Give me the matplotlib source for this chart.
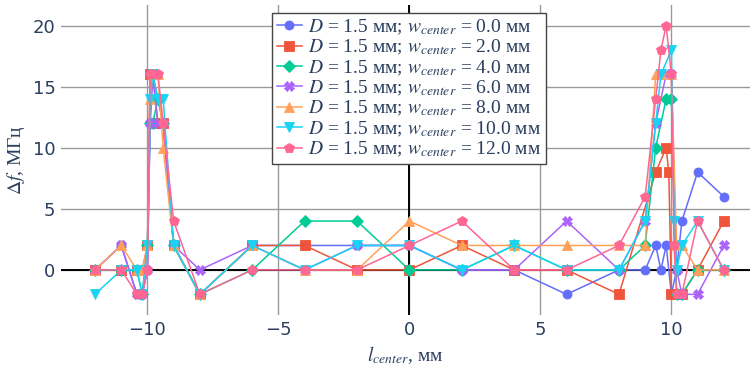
import matplotlib.pyplot as plt

plt.rcParams['mathtext.fontset'] = 'stix'

# data (x in mm, y in MHz)
x_w0 = [-12, -11, -10.4, -10.2, -10, -9.9, -9.8, -9.6, -9.4, -9, -8, -6, -4, -2, 0, 2, 4, 6, 8, 9, 9.4, 9.6, 9.8, 10, 10.2, 10.4, 11, 12]
y_w0 = [0, 2, -2, -2, 0, 12, 16, 14, 12, 2, -2, 2, 2, 2, 2, 0, 0, -2, 0, 0, 2, 0, 2, -2, 0, 4, 8, 6]

x_w2 = [-12, -11, -10.4, -10.2, -10, -9.9, -9.8, -9.6, -9.4, -9, -8, -6, -4, -2, 0, 2, 4, 6, 8, 9.4, 9.8, 9.9, 10, 10.2, 10.4, 11, 12]
y_w2 = [0, 0, 0, 0, 2, 16, 16, 12, 12, 2, -2, 2, 2, 0, 0, 2, 0, 0, -2, 8, 10, 8, -2, -2, -2, 0, 4]

x_w4 = [-12, -11, -10.4, -10.2, -10, -9.9, -9.8, -9.6, -9.4, -9, -8, -6, -4, -2, 0, 2, 4, 6, 8, 9, 9.4, 9.8, 10, 10.2, 10.4, 11, 12]
y_w4 = [0, 0, 0, -2, 2, 12, 12, 14, 12, 2, -2, 0, 4, 4, 0, 0, 2, 0, 0, 2, 10, 14, 14, -2, -2, 0, 0]

x_w6 = [-12, -11, -10.4, -10.2, -10, -9.9, -9.8, -9.6, -9.4, -9, -8, -6, -4, -2, 0, 2, 4, 6, 8, 9, 9.4, 9.8, 10, 10.2, 10.4, 11, 12]
y_w6 = [0, 2, -2, -2, 0, 12, 16, 12, 12, 2, 0, 2, 0, 2, 2, 0, 0, 4, 0, 4, 12, 16, 16, 0, -2, -2, 2]

x_w8 = [-12, -11, -10.4, -10.2, -10, -9.9, -9.8, -9.6, -9.4, -9, -8, -6, -4, -2, 0, 2, 4, 6, 8, 9, 9.4, 9.6, 10, 10.2, 10.4, 11, 12]
y_w8 = [0, 2, 0, 0, 2, 14, 16, 16, 10, 2, -2, 2, 0, 0, 4, 2, 2, 2, 2, 2, 16, 16, 16, 2, 2, 0, 0]

x_w10 = [-12, -11, -10.4, -10.2, -10, -9.9, -9.8, -9.6, -9.4, -9, -8, -6, -4, -2, 0, 2, 4, 6, 8, 9, 9.4, 9.6, 10, 10.1, 10.2, 10.4, 11, 12]
y_w10 = [-2, 0, 0, -2, 2, 14, 16, 14, 14, 2, -2, 2, 0, 2, 2, 0, 2, 0, 0, 4, 12, 16, 18, 4, 0, 2, 4, 0]

x_w12 = [-12, -11, -10.4, -10.2, -10, -9.9, -9.8, -9.6, -9.4, -9, -8, -6, -4, -2, 0, 2, 4, 6, 8, 9, 9.4, 9.6, 9.8, 10, 10.1, 10.2, 10.4, 11, 12]
y_w12 = [0, 0, -2, -2, 0, 16, 16, 16, 12, 4, -2, 0, 0, 0, 2, 4, 0, 0, 2, 6, 14, 18, 20, 16, 2, -2, -2, 4, 0]

widths = ['0.0', '2.0', '4.0', '6.0', '8.0', '10.0', '12.0']
xs = [x_w0, x_w2, x_w4, x_w6, x_w8, x_w10, x_w12]
ys = [y_w0, y_w2, y_w4, y_w6, y_w8, y_w10, y_w12]
colors = ['#636EFA', '#EF553B', '#00CC96', '#AB63FA', '#FFA15A', '#19D3F3', '#FF6692']
markers = ['o', 's', 'D', 'X', '^', 'v', 'p']
msizes = [6.5, 6.5, 6, 7, 6.5, 6.5, 7]

fig = plt.figure(figsize=(7.53, 3.72), dpi=100)
ax = fig.add_axes([0.081, 0.153, 0.915, 0.834])

for x, y, w, c, m, ms in zip(xs, ys, widths, colors, markers, msizes):
    ax.plot(x, y, color=c, marker=m, markersize=ms, linewidth=1.1,
            markeredgewidth=0.6, markeredgecolor=c,
            label=r'$D$ = 1.5 мм; $w_{center}$ = ' + w + ' мм')

ax.set_xlim(-13.3, 13.0)
ax.set_ylim(-3.7, 21.7)
ax.set_xticks([-10, -5, 0, 5, 10])
ax.set_yticks([0, 5, 10, 15, 20])
ax.set_xticklabels(['\u221210', '\u22125', '0', '5', '10'])
ax.grid(True, color='#9a9a9a', linewidth=1.0)
ax.set_axisbelow(True)
ax.axhline(0, color='black', linewidth=1.4, zorder=1)
ax.axvline(0, color='black', linewidth=1.4, zorder=1)
for s in ax.spines.values():
    s.set_visible(False)
ax.tick_params(length=0, labelsize=13, labelcolor='#2a3f5f', pad=4)

ax.set_xlabel(r'$l_{center}$, мм', fontsize=14, color='#2a3f5f',
              family='Liberation Serif', labelpad=4)
ax.set_ylabel(r'$\Delta f$, МГц', fontsize=14, color='#2a3f5f',
              family='Liberation Serif', labelpad=4)

leg = ax.legend(loc='upper left', bbox_to_anchor=(0.306, 0.975),
                prop={'family': 'Liberation Serif', 'size': 14},
                frameon=True, fancybox=False, framealpha=1,
                edgecolor='#444444', labelspacing=0.05, handlelength=1.3,
                handletextpad=0.3, borderpad=0.25, borderaxespad=0)
leg.get_frame().set_linewidth(1.0)
for t in leg.get_texts():
    t.set_color('#2a3f5f')

fig.savefig('out.png', dpi=100)
